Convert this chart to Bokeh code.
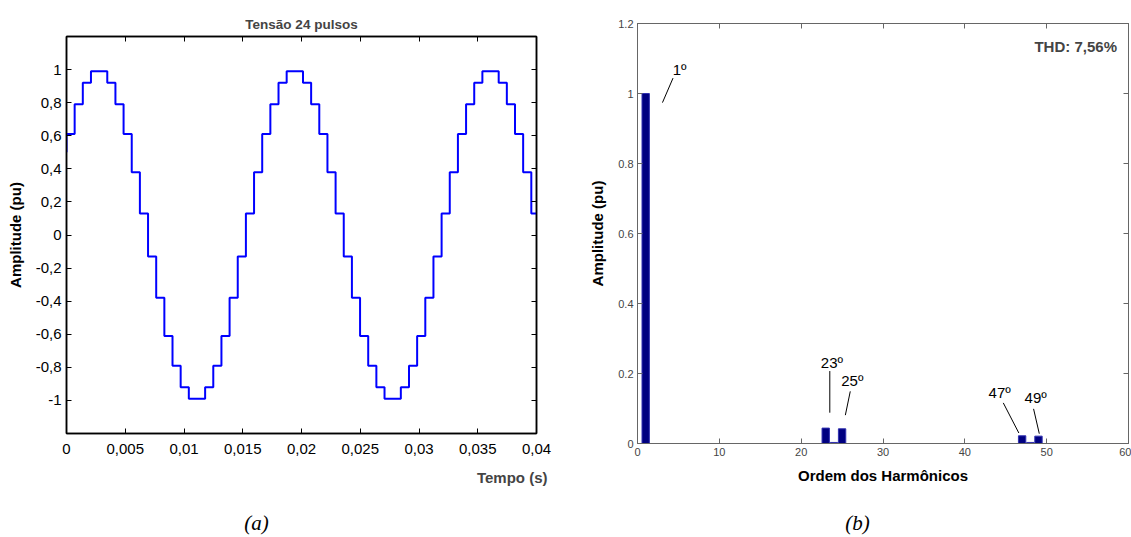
from bokeh.plotting import figure
from bokeh.layouts import row, column
from bokeh.models import (FixedTicker, CustomJSTickFormatter, LinearAxis, Label, Range1d, Title)
from bokeh.embed import file_html
from bokeh.resources import INLINE
from bokeh.core.properties import value

FONT = "Liberation Sans"
SERIF = "Liberation Serif"

# ---------------- data: panel (a) 24-pulse staircase voltage ----------------
a_title = "Tensão 24 pulsos"
a_step_dt = 0.000694          # duration of each step (s)
a_start_level = 0.5           # value of first sample at t = 0
a_levels = [
    0.61, 0.79, 0.92, 0.99, 0.99, 0.92, 0.79, 0.61, 0.38, 0.13, -0.13, -0.38,
    -0.61, -0.79, -0.92, -0.99, -0.99, -0.92, -0.79, -0.61, -0.38, -0.13, 0.13, 0.38,
    0.61, 0.79, 0.92, 0.99, 0.99, 0.92, 0.79, 0.61, 0.38, 0.13, -0.13, -0.38,
    -0.61, -0.79, -0.92, -0.99, -0.99, -0.92, -0.79, -0.61, -0.38, -0.13, 0.13, 0.38,
    0.61, 0.79, 0.92, 0.99, 0.99, 0.92, 0.79, 0.61, 0.38, 0.13,
]
a_t_end = 0.04
a_xticks = [0, 0.005, 0.01, 0.015, 0.02, 0.025, 0.03, 0.035, 0.04]
a_xlabels = ["0", "0,005", "0,01", "0,015", "0,02", "0,025", "0,03", "0,035", "0,04"]
a_yticks = [-1, -0.8, -0.6, -0.4, -0.2, 0, 0.2, 0.4, 0.6, 0.8, 1]
a_ylabels = ["-1", "-0,8", "-0,6", "-0,4", "-0,2", "0", "0,2", "0,4", "0,6", "0,8", "1"]
a_xlabel = "Tempo (s)"
a_ylabel = "Amplitude (pu)"

# ---------------- data: panel (b) harmonic spectrum ----------------
b_orders = [1, 23, 24, 25, 47, 48, 49]
b_amps = [1.0, 0.044, 0.003, 0.042, 0.022, 0.003, 0.021]
b_xticks = [0, 10, 20, 30, 40, 50, 60]
b_xlabels = ["0", "10", "20", "30", "40", "50", "60"]
b_yticks = [0, 0.2, 0.4, 0.6, 0.8, 1.0, 1.2]
b_ylabels = ["0", "0.2", "0.4", "0.6", "0.8", "1", "1.2"]
b_xlabel = "Ordem dos Harmônicos"
b_ylabel = "Amplitude (pu)"
b_thd = "THD:  7,56%"
b_ann_text = ["1º", "23º", "25º", "47º", "49º"]
b_ann_tx = [4.3, 22.4, 24.9, 42.9, 47.3]
b_ann_ty = [1.045, 0.207, 0.157, 0.121, 0.106]
b_ann_x0 = [3.05, 23.5, 25.4, 46.6, 49.1]
b_ann_y0 = [0.974, 0.088, 0.081, 0.030, 0.028]
b_ann_x1 = [4.34, 23.5, 26.0, 44.7, 48.4]
b_ann_y1 = [1.044, 0.207, 0.149, 0.116, 0.099]

# ---------------- captions (strip under both panels, pixel positions) ----------------
cap_text = ["(a)", "(b)"]
cap_x = [256, 857]


def fmt(tick_vals, tick_labels):
    return CustomJSTickFormatter(args=dict(tv=tick_vals, lv=tick_labels), code="""
        for (let i = 0; i < tv.length; i++) {
            if (Math.abs(tv[i] - tick) < 1e-9) { return lv[i]; }
        }
        return '';
    """)


def blank():
    return CustomJSTickFormatter(code="return '';")


def no_align(p):
    try:
        p.frame_align = False
    except Exception:
        pass


def style_axis(ax, tick_vals, tick_labels, size, color, line_color, lw):
    ax.ticker = FixedTicker(ticks=tick_vals)
    ax.formatter = fmt(tick_vals, tick_labels)
    ax.major_tick_in = 5
    ax.major_tick_out = 0
    ax.minor_tick_line_color = None
    ax.major_tick_line_color = line_color
    ax.axis_line_color = line_color
    ax.axis_line_width = lw
    ax.major_tick_line_width = 1
    ax.major_label_text_font = FONT
    ax.major_label_text_font_size = size
    ax.major_label_text_color = color
    ax.axis_label_text_font = FONT
    ax.axis_label_text_font_style = "bold"
    ax.axis_label_text_color = "black"


def box_axis(p, tick_vals, side, line_color, lw):
    ax = LinearAxis(ticker=FixedTicker(ticks=tick_vals), formatter=blank(),
                    major_tick_in=5, major_tick_out=0, minor_tick_line_color=None,
                    major_label_standoff=0, axis_line_color=line_color,
                    axis_line_width=lw, major_tick_line_color=line_color)
    p.add_layout(ax, side)


# ---------------- panel (a) ----------------
xs = [0.0]
ys = [a_start_level]
for i, lev in enumerate(a_levels):
    t0 = i * a_step_dt
    t1 = min((i + 1) * a_step_dt, a_t_end)
    xs += [t0, t1]
    ys += [lev, lev]

p1 = figure(width=560, height=507, x_range=Range1d(0, 0.04), y_range=Range1d(-1.2, 1.2),
            output_backend="svg", toolbar_location=None,
            min_border_left=66, min_border_right=24, min_border_top=36, min_border_bottom=74,
            outline_line_color="black", outline_line_width=1.5)
no_align(p1)
p1.grid.visible = False
p1.title.text = a_title
p1.title.align = "center"
p1.title.text_font = FONT
p1.title.text_font_size = "13.5px"
p1.title.text_font_style = "bold"
p1.title.standoff = 10

p1.line(xs, ys, line_color="#0000ff", line_width=2)

style_axis(p1.xaxis[0], a_xticks, a_xlabels, "15px", "black", "black", 1.5)
style_axis(p1.yaxis[0], a_yticks, a_ylabels, "15px", "black", "black", 1.5)
p1.xaxis.major_label_standoff = 10
p1.yaxis.major_label_standoff = 5
p1.yaxis.axis_label = a_ylabel
p1.yaxis.axis_label_text_font_size = "15px"
p1.yaxis.axis_label_standoff = 9
box_axis(p1, a_yticks, "right", "black", 1.5)
box_axis(p1, a_xticks, "above", "black", 1.5)

p1.add_layout(Title(text=a_xlabel, align="right", offset=-11, standoff=21,
                    text_font=FONT, text_font_size="15px", text_font_style="bold"), "below")

# ---------------- panel (b) ----------------
p2 = figure(width=571, height=507, x_range=Range1d(0, 60), y_range=Range1d(0, 1.2),
            output_backend="svg", toolbar_location=None, title=None,
            min_border_left=77, min_border_right=3, min_border_top=23, min_border_bottom=64,
            outline_line_color="#666666", outline_line_width=1)
no_align(p2)
p2.grid.visible = False

p2.vbar(x=b_orders, top=b_amps, width=0.9, fill_color="#000080", line_color="#3030b0", line_width=1)
p2.segment(x0=b_ann_x0, y0=b_ann_y0, x1=b_ann_x1, y1=b_ann_y1, line_color="black", line_width=1)
p2.text(x=b_ann_tx, y=b_ann_ty, text=b_ann_text, text_font=value(FONT), text_font_size="15px",
        text_align="left", text_baseline="bottom", text_color="black")

style_axis(p2.xaxis[0], b_xticks, b_xlabels, "11px", "#444444", "#666666", 1)
style_axis(p2.yaxis[0], b_yticks, b_ylabels, "11px", "#444444", "#666666", 1)
p2.xaxis.major_label_standoff = 4
p2.yaxis.major_label_standoff = 4
p2.xaxis.axis_label = b_xlabel
p2.yaxis.axis_label = b_ylabel
p2.xaxis.axis_label_text_font_size = "15px"
p2.yaxis.axis_label_text_font_size = "15px"
p2.xaxis.axis_label_standoff = 8
p2.yaxis.axis_label_standoff = 9
box_axis(p2, b_yticks, "right", "#666666", 1)
box_axis(p2, b_xticks, "above", "#666666", 1)

p2.add_layout(Label(x=59.1, y=1.134, text=b_thd, text_align="right", text_baseline="middle",
                    text_font=FONT, text_font_size="15px", text_font_style="bold"))

# ---------------- caption strip ----------------
strip = figure(width=1131, height=30, x_range=Range1d(0, 1131), y_range=Range1d(0, 30),
               output_backend="svg", toolbar_location=None, title=None,
               x_axis_type=None, y_axis_type=None, min_border=0,
               outline_line_color=None)
no_align(strip)
strip.grid.visible = False
strip.text(x=cap_x, y=[15, 15], text=cap_text, text_font=value(SERIF), text_font_size="21px",
           text_font_style="italic", text_align="center", text_baseline="middle", text_color="black")

layout = column(row(p1, p2), strip)
open("out.html", "w").write(file_html(layout, INLINE))
